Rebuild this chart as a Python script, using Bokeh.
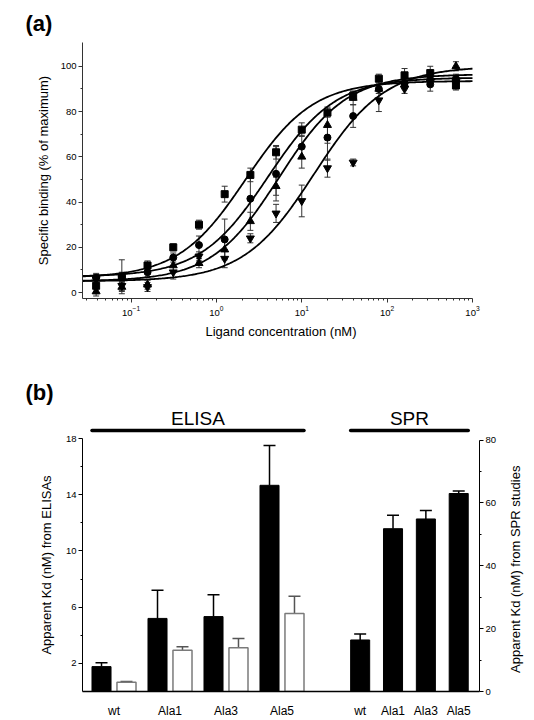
import math
import numpy as np
from bokeh.plotting import figure
from bokeh.models import (Range1d, LinearAxis, FixedTicker, Whisker, TeeHead,
                          ColumnDataSource)
from bokeh.layouts import column, row
from bokeh.embed import file_html
from bokeh.resources import INLINE
from bokeh.core.properties import value

# ---------------- Panel (a) data ----------------
conc_nM = [0.039, 0.078, 0.156, 0.3125, 0.625, 1.25, 2.5, 5, 10, 20, 40, 80, 160, 320, 640]
sq_y = [3, 7, 12, 20, 30, 43.5, 52, 62, 72, 79.5, 87, 94.5, 96, 97, 91.5]
sq_err = [3.5, 2, 2, 1.5, 2, 3.5, 3, 3, 3, 2, 2, 2, 3, 3, 2]
ci_y = [6.5, 7, 9, 15.5, 21, 23.5, 41.5, 52.5, 64.5, 68.5, 78, 90, 92.5, 92, 94.5]
ci_err = [2, 7.5, 2, 2, 4, 9, 10, 12, 5, 10, 5, 2, 2, 3, 2]
up_y = [0.5, 2.5, 3.5, 12, 13, 19, 31.5, 47, 60, 74, 86, 90, 92, 95, 100]
up_err = [2, 2, 2, 3, 2, 4, 4, 4, 5, 8, 3, 2, 2, 2, 2]
dn_y = [6, 3, 2.5, 9, 16, 15, 24, 35, 40.5, 55, 57.5, 85, 90, 93, 93]
dn_err = [2, 2, 2, 3, 2, 4, 2, 4, 7, 4, 1.5, 5, 2, 2, 2]

# fitted sigmoid (4-parameter logistic) parameters for each series
fit_bottom = [6.5, 7.0, 5.0, 5.0]
fit_top = [93.5, 95.0, 96.5, 100.0]
fit_ec50 = [2.2, 4.0, 5.4, 14.0]
fit_hill = [1.1, 1.1, 1.1, 1.05]

x_ticks_a = [0.1, 1, 10, 100, 1000]
y_ticks_a = [0, 20, 40, 60, 80, 100]

# ---------------- Panel (b) data ----------------
variants = ["wt", "Ala1", "Ala3", "Ala5"]
elisa_solid = [1.77, 5.20, 5.33, 14.67]
elisa_solid_err = [0.28, 2.00, 1.55, 2.83]
elisa_open = [0.66, 2.94, 3.11, 5.55]
elisa_open_err = [0.05, 0.24, 0.66, 1.23]
spr_kd = [16.4, 51.8, 54.9, 63.0]
spr_err = [1.9, 4.3, 2.7, 0.8]

left_ticks_b = [2, 6, 10, 14, 18]
right_ticks_b = [0, 20, 40, 60, 80]

FONT = "Liberation Sans"
W = 534
BL, BR = 82, 55  # left / right borders shared by all stacked plots


def style_axis(ax, size="9.5px"):
    ax.major_label_text_font = FONT
    ax.major_label_text_font_size = size
    ax.major_label_text_color = "black"
    ax.axis_label_text_font = FONT
    ax.axis_label_text_font_size = "13px"
    ax.axis_label_text_font_style = "normal"
    ax.axis_label_text_color = "black"
    ax.major_tick_in = 0
    ax.major_tick_out = 4
    ax.minor_tick_in = 0
    ax.minor_tick_out = 2


def style_title(f, text, offset, standoff, valign="bottom"):
    f.title.text = text
    f.title.align = "left"
    f.title.offset = offset
    f.title.vertical_align = valign
    try:
        f.title.standoff = standoff
    except Exception as exc:
        print("standoff rejected:", exc)
        f.title.standoff = 0
    f.title.text_font = FONT
    f.title.text_font_size = "22px"
    f.title.text_font_style = "bold"
    f.title.text_color = "black"


# ================= Panel (a) =================
xa_max = 10 ** (3 + 7 / 85.2)
pa = figure(width=W, height=370, x_axis_type="log",
            x_range=Range1d(0.027, xa_max), y_range=Range1d(-2.6, 110.5),
            output_backend="svg", toolbar_location=None,
            min_border_left=BL, min_border_right=BR,
            min_border_top=42, min_border_bottom=72)
pa.grid.visible = False
pa.outline_line_color = None
style_title(pa, "(a)", -57, 10, "top")

xs = np.logspace(np.log10(0.027), 3, 300)
for b, t, e, h in zip(fit_bottom, fit_top, fit_ec50, fit_hill):
    ys = b + (t - b) / (1.0 + (e / xs) ** h)
    pa.line(xs, ys, line_color="black", line_width=1.8)

series = [(sq_y, sq_err, "square", 7), (ci_y, ci_err, "circle", 7),
          (up_y, up_err, "triangle", 8), (dn_y, dn_err, "inverted_triangle", 8)]
for ys, es, mk, sz in series:
    src = ColumnDataSource(dict(x=conc_nM, y=ys,
                                lo=[y - e for y, e in zip(ys, es)],
                                hi=[y + e for y, e in zip(ys, es)]))
    pa.add_layout(Whisker(source=src, base="x", lower="lo", upper="hi",
                          line_color="#333333", line_width=1,
                          upper_head=TeeHead(size=6, line_color="#333333", line_width=1),
                          lower_head=TeeHead(size=6, line_color="#333333", line_width=1)))
    pa.scatter("x", "y", source=src, marker=mk, size=sz,
               fill_color="black", line_color="black")

minor_a = [m * 10.0 ** k for k in range(-2, 3) for m in range(2, 10) if 0.027 <= m * 10.0 ** k <= 1000]
pa.xaxis.ticker = FixedTicker(ticks=x_ticks_a, minor_ticks=minor_a)
pa.xaxis.bounds = (0.027, 1000)
pa.yaxis.ticker = FixedTicker(ticks=y_ticks_a, minor_ticks=[10, 30, 50, 70, 90])
for ax in (pa.xaxis[0], pa.yaxis[0]):
    style_axis(ax)
    ax.axis_line_color = "#333333"
    ax.major_tick_line_color = "#333333"
    ax.minor_tick_line_color = "#333333"
pa.xaxis.axis_label = "Ligand concentration (nM)"
pa.yaxis.axis_label = "Specific binding (% of maximum)"
pa.xaxis.major_label_standoff = 3
pa.yaxis.major_label_standoff = 2
pa.xaxis.axis_label_standoff = 5
pa.yaxis.axis_label_standoff = 7

# ================= Panel (b) geometry =================
group_x = [float(i) for i in range(len(variants))]
solid_x = [round(g - 0.223, 4) for g in group_x]
open_x = [round(g + 0.223, 4) for g in group_x]
spr_x = [round(4.396 + 0.5866 * i, 4) for i in range(len(variants))]
bw = 0.34
xr_b = Range1d(-0.5625, 6.527)

# ================= header (b): group titles =================
# header plot spans page rows 370..433; its frame covers rows 390..433
hb = figure(width=W, height=63, x_range=xr_b, y_range=Range1d(433, 390),
            x_axis_location=None, y_axis_location=None,
            output_backend="svg", toolbar_location=None,
            min_border_left=BL, min_border_right=BR, min_border_top=20, min_border_bottom=0)
hb.grid.visible = False
hb.outline_line_color = None
style_title(hb, "(b)", -57, -29)
elisa_l, elisa_r = solid_x[0] - bw / 2, open_x[-1] + bw / 2
spr_l, spr_r = spr_x[0] - bw / 2, spr_x[-1] + bw / 2
hb.segment(x0=[elisa_l, spr_l], y0=[430, 430], x1=[elisa_r, spr_r], y1=[430, 430],
           line_color="black", line_width=3.5, line_cap="round")
hb.text(x=[(elisa_l + elisa_r) / 2, (spr_l + spr_r) / 2], y=[417.5, 417.5], text=["ELISA", "SPR"],
        text_font=value(FONT), text_font_size="19px", text_align="center",
        text_baseline="middle", text_color="black")

# ================= Panel (b) =================
PBW = 500  # panel (b) plot width; a narrow strip to its right carries the right-hand title
pb = figure(width=PBW, height=287, x_range=xr_b, y_range=Range1d(0, 18),
            output_backend="svg", toolbar_location=None,
            min_border_left=BL, min_border_right=BR - (W - PBW),
            min_border_top=5, min_border_bottom=27)
pb.extra_y_ranges = {"spr": Range1d(0, 80.5)}
pb.grid.visible = False
pb.outline_line_color = None

pb.vbar(x=solid_x, top=elisa_solid, width=bw, fill_color="black", line_color="black")
pb.vbar(x=open_x, top=elisa_open, width=bw, fill_color="white", line_color="#7a7a7a", line_width=1.5)
pb.vbar(x=spr_x, top=spr_kd, width=bw, fill_color="black", line_color="black", y_range_name="spr")


def add_err(xv, top, err, color, rng=None):
    src = ColumnDataSource(dict(x=xv, lo=top, hi=[t + e for t, e in zip(top, err)]))
    kw = {}
    if rng:
        kw["y_range_name"] = rng
    pb.add_layout(Whisker(source=src, base="x", lower="lo", upper="hi",
                          line_color=color, line_width=1.5,
                          upper_head=TeeHead(size=12, line_color=color, line_width=1.5),
                          lower_head=None, **kw))


add_err(solid_x, elisa_solid, elisa_solid_err, "black")
add_err(open_x, elisa_open, elisa_open_err, "#555555")
add_err(spr_x, spr_kd, spr_err, "black", "spr")

pb.xaxis.ticker = FixedTicker(ticks=group_x + spr_x, minor_ticks=[])
pb.xaxis.major_label_overrides = {t: lab for t, lab in zip(group_x + spr_x, variants + variants)}
style_axis(pb.xaxis[0], "12px")
pb.xaxis.major_tick_line_color = None
pb.xaxis.major_label_standoff = 8
pb.xaxis.axis_line_width = 1.5
pb.xaxis.axis_line_color = "black"

pb.yaxis.ticker = FixedTicker(ticks=left_ticks_b, minor_ticks=[4, 8, 12, 16])
style_axis(pb.yaxis[0], "9.5px")
pb.yaxis.axis_label = "Apparent Kd (nM) from ELISAs"
pb.yaxis.major_label_standoff = 2
pb.yaxis.axis_label_standoff = 9
pb.yaxis.axis_line_color = "black"

ry = LinearAxis(y_range_name="spr", bounds=(0, 80),
                ticker=FixedTicker(ticks=right_ticks_b, minor_ticks=[10, 30, 50, 70]))
style_axis(ry, "9.5px")
ry.major_label_standoff = 2
ry.axis_line_color = "black"
pb.add_layout(ry, "right")

# strip to the right of panel (b) carrying its right-hand axis title (reads bottom-to-top)
sb = figure(width=W - PBW, height=287, x_range=Range1d(PBW, W), y_range=pb.y_range,
            x_axis_location=None, y_axis_location=None,
            output_backend="svg", toolbar_location=None,
            min_border_left=0, min_border_right=0, min_border_top=5, min_border_bottom=27)
sb.grid.visible = False
sb.outline_line_color = None
sb.text(x=[515], y=[8.7], text=["Apparent Kd (nM) from SPR studies"], angle=math.pi / 2,
        text_font=value(FONT), text_font_size="13px", text_align="center",
        text_baseline="middle", text_color="black")

layout = column(pa, hb, row(pb, sb, spacing=0), spacing=0)
open("out.html", "w").write(file_html(layout, INLINE))
